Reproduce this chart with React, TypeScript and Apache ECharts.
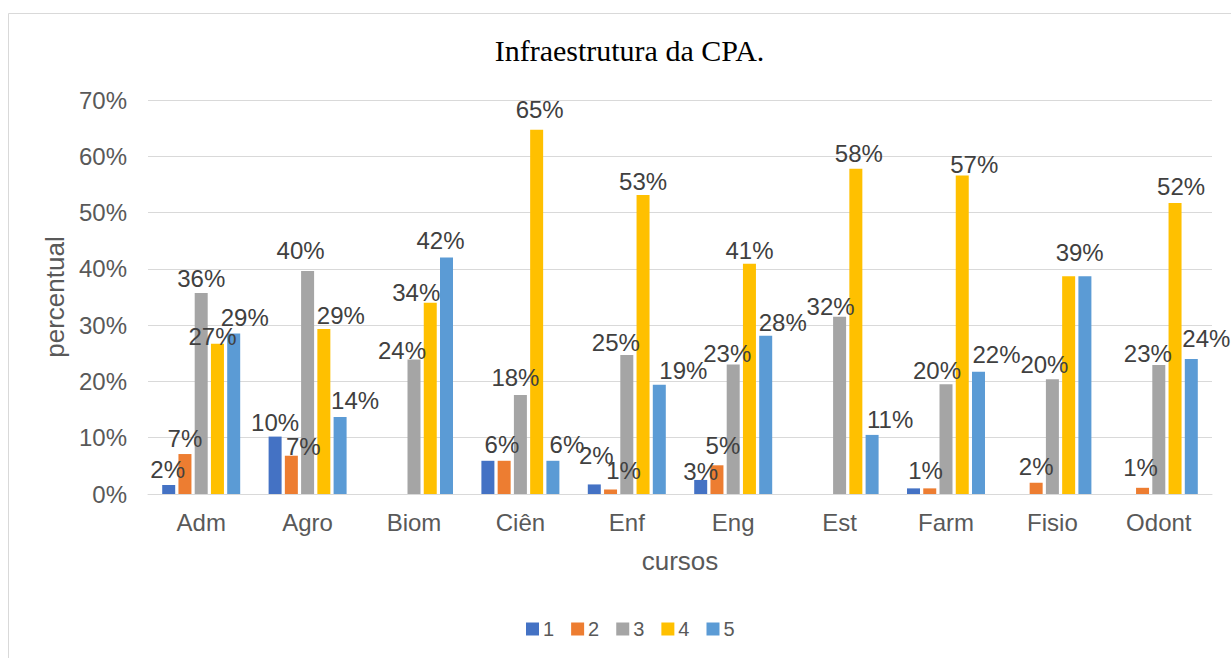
import React, { useEffect, useRef } from "react";
import * as echarts from "echarts";

const categories = ["Adm", "Agro", "Biom", "Ciên", "Enf", "Eng", "Est", "Farm", "Fisio", "Odont"];
const seriesNames = ["1", "2", "3", "4", "5"];
const s1 = [1.6, 10.2, 0, 5.9, 1.7, 2.5, 0, 1.0, 0, 0];
const s2 = [7.1, 6.8, 0, 5.9, 0.8, 5.1, 0, 1.0, 2.0, 1.1];
const s3 = [35.7, 39.6, 23.9, 17.6, 24.7, 23.0, 31.5, 19.5, 20.4, 22.9];
const s4 = [26.7, 29.3, 34.0, 64.7, 53.1, 40.9, 57.8, 56.6, 38.7, 51.7];
const s5 = [28.5, 13.7, 42.0, 5.9, 19.4, 28.1, 10.5, 21.7, 38.7, 24.0];
const colors = ["#4472C4", "#ED7D31", "#A5A5A5", "#FFC000", "#5B9BD5"];
const yTicks = [0, 10, 20, 30, 40, 50, 60, 70];

// label nudges [dx, dy] (as placed in the original), null = label not shown
type Nudge = [number, number] | null;
const nudge1: Nudge[] = [[-1, 0], [0, 1], null, [14, -1], [2, -14], [0, 7], null, [12, -3], null, null];
const nudge2: Nudge[] = [[0, -1], [12, 6], null, null, [13, -4], [6, -5], null, null, [0, -1], [-2, -5]];
const nudge3: Nudge[] = [[0, 0], [-7, -6], [-12, 6], [-5, -2], [-11, 3], [-6, 4], [-9, 5], [-9, 1], [-8, 0], [-11, 3]];
const nudge4: Nudge[] = [[-5, 8], [17, 1], [-14, 5], [3, -5], [0, 1], [0, 2], [3, 0], [12, 4], [11, -9], [6, -2]];
const nudge5: Nudge[] = [[11, -1], [15, -1], [-6, -2], [14, -1], [24, 1], [17, 2], [18, 0], [18, -2], null, [15, -5]];

const FONT = "Liberation Sans, Arial, sans-serif";

export default function App() {
  const ref = useRef<HTMLDivElement>(null);
  useEffect(() => {
    if (!ref.current) return;
    const chart = echarts.init(ref.current, undefined, { renderer: "svg" });
    const all = [s1, s2, s3, s4, s5];
    const nudges = [nudge1, nudge2, nudge3, nudge4, nudge5];
    const series = all.map((vals, si) => ({
      name: seriesNames[si],
      type: "bar",
      barWidth: 13,
      barGap: "25%",
      itemStyle: { color: colors[si] },
      label: {
        show: true,
        position: "top",
        distance: 3,
        fontSize: 24,
        color: "#404040",
        fontFamily: FONT,
        formatter: (p: any) => (p.value > 0 ? Math.round(p.value) + "%" : ""),
      },
      data: vals.map((v, ci) => {
        const n = nudges[si][ci];
        if (!n) return { value: v, label: { show: false } };
        return { value: v, label: { offset: n } };
      }),
    }));
    chart.setOption({
      animation: false,
      title: {
        text: "Infraestrutura da CPA.",
        left: 624.5,
        textAlign: "center",
        top: 30,
        textStyle: { fontFamily: "Liberation Serif, Times New Roman, serif", fontSize: 30, fontWeight: "normal", color: "#000" },
      },
      legend: {
        left: 521,
        top: 614,
        itemWidth: 13,
        itemHeight: 13,
        itemGap: 17,
        icon: "rect",
        data: seriesNames,
        textStyle: { fontSize: 20, color: "#595959", fontFamily: FONT, padding: [0, 0, 0, -1] },
      },
      grid: { left: 148, right: 19, top: 100, bottom: 164, containLabel: false },
      xAxis: {
        type: "category",
        data: categories,
        name: "cursos",
        nameLocation: "middle",
        nameGap: 54,
        nameTextStyle: { fontSize: 26, color: "#595959", fontFamily: FONT, verticalAlign: "top" },
        axisLine: { lineStyle: { color: "#D9D9D9", width: 1 } },
        axisTick: { show: false },
        axisLabel: { fontSize: 24, color: "#595959", margin: 16, fontFamily: FONT },
      },
      yAxis: {
        type: "value",
        min: yTicks[0],
        max: yTicks[yTicks.length - 1],
        interval: 10,
        name: "percentual",
        nameLocation: "middle",
        nameGap: 76,
        nameTextStyle: { fontSize: 26, color: "#595959", fontFamily: FONT },
        axisLine: { show: false },
        axisTick: { show: false },
        axisLabel: { fontSize: 24, color: "#595959", margin: 21, formatter: "{value}%", fontFamily: FONT },
        splitLine: { lineStyle: { color: "#D9D9D9", width: 1 } },
      },
      graphic: [
        {
          type: "rect",
          shape: { x: 8.5, y: 13.5, width: 1300, height: 800 },
          style: { fill: "none", stroke: "#D9D9D9", lineWidth: 1 },
          silent: true,
          z: -1,
        },
      ],
      series,
    });
    return () => chart.dispose();
  }, []);
  return <div ref={ref} style={{ position: "fixed", left: 0, top: 0, width: 1231, height: 658, background: "#fff" }} />;
}
